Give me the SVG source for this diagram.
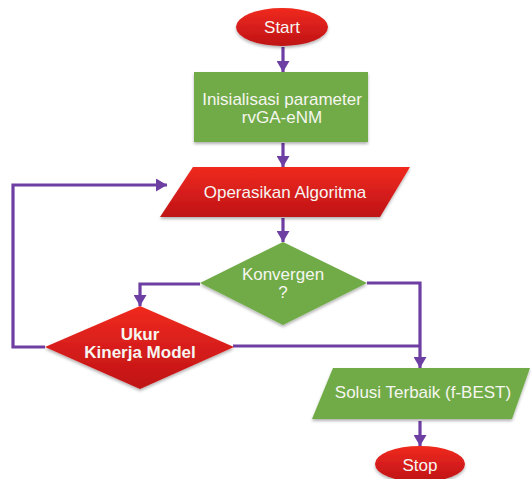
<svg xmlns="http://www.w3.org/2000/svg" width="532" height="479" viewBox="0 0 532 479">
<style>
.lbl{font-family:"Liberation Sans",Arial,sans-serif;font-size:17px;fill:#f6f6f0;text-anchor:middle}
.con{fill:none;stroke:#6e3fa3;stroke-width:3.2}
.red{fill:url(#gr);filter:url(#sh)}
.grn{fill:#70ab46;filter:url(#sh)}
</style>
<defs>
<linearGradient id="gr" x1="0" y1="0" x2="0" y2="1">
<stop offset="0" stop-color="#f02a1e"/>
<stop offset="1" stop-color="#bf1217"/>
</linearGradient>
<filter id="sh" x="-10%" y="-10%" width="120%" height="130%">
<feDropShadow dx="0" dy="2" stdDeviation="1.5" flood-color="#000" flood-opacity="0.3"/>
</filter>
<marker id="ah" markerUnits="userSpaceOnUse" markerWidth="13" markerHeight="13" refX="11" refY="6.5" orient="auto">
<path d="M0,0 L11,6.5 L0,13 z" fill="#6e3fa3"/>
</marker>
</defs>
<rect width="532" height="479" fill="#fff"/>
<g id="connectors">
<path class="con" d="M283,47 V72" marker-end="url(#ah)"/>
<path class="con" d="M283,143 V167" marker-end="url(#ah)"/>
<path class="con" d="M283,218 V242" marker-end="url(#ah)"/>
<path class="con" d="M200,284 H140 V306" marker-end="url(#ah)"/>
<path class="con" d="M367,283 H420 V368" marker-end="url(#ah)"/>
<path class="con" d="M233,346 H420"/>
<path class="con" d="M45,347 H13 V185 H167" marker-end="url(#ah)"/>
<path class="con" d="M420,421 V446" marker-end="url(#ah)"/>
</g>
<g id="start">
<ellipse class="red" cx="282" cy="27" rx="46" ry="19"/>
<text class="lbl" x="282" y="33">Start</text>
</g>
<g id="init">
<rect class="grn" x="194" y="72" width="174" height="70"/>
<text class="lbl" x="282" y="105">Inisialisasi parameter</text>
<text class="lbl" x="282" y="123">rvGA-eNM</text>
</g>
<g id="operasikan">
<polygon class="red" points="193,167 410,167 380,217 160,217"/>
<text class="lbl" x="285" y="198">Operasikan Algoritma</text>
</g>
<g id="konvergen">
<polygon class="grn" points="283,242 367,283 283,325 200,283"/>
<text class="lbl" x="283" y="280">Konvergen</text>
<text class="lbl" x="283" y="298">?</text>
</g>
<g id="ukur">
<polygon class="red" points="140,306 234,347 140,389 45,347"/>
<text class="lbl" x="140" y="340" font-weight="bold" font-size="16">Ukur</text>
<text class="lbl" x="140" y="358" font-weight="bold" font-size="16">Kinerja Model</text>
</g>
<g id="solusi">
<polygon class="grn" points="333,368 530,368 512,419 312,419"/>
<text class="lbl" x="423" y="398">Solusi Terbaik (f-BEST)</text>
</g>
<g id="stop">
<ellipse class="red" cx="420" cy="464" rx="45" ry="18"/>
<text class="lbl" x="420" y="471">Stop</text>
</g>
</svg>
